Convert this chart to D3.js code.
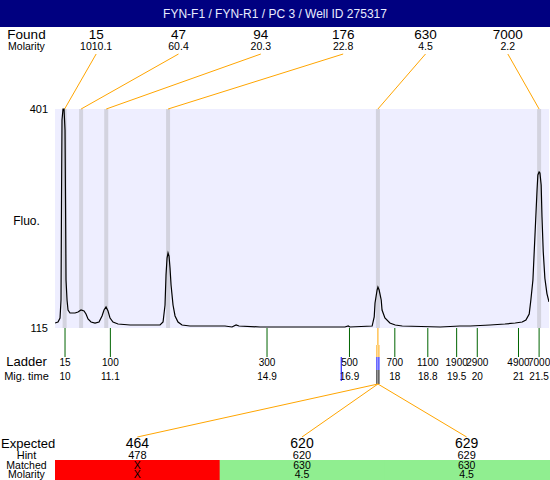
<!doctype html>
<html lang="en">
  <head>
    <meta charset="utf-8">
    <title>FYN-F1 / FYN-R1 / PC 3 / Well ID 275317</title>
    <style>
      body{margin:0; background:#fff;}
      text{font-family:"Liberation Sans", Arial, sans-serif;}
    </style>
  </head>
  <body>
    <script src="https://cdn.jsdelivr.net/npm/d3@7"></script>
    <script>

      var title = "FYN-F1 / FYN-R1 / PC 3 / Well ID 275317";

      // found peaks
      var foundSizes    = [15, 47, 94, 176, 630, 7000];
      var foundMolarity = ["1010.1", "60.4", "20.3", "22.8", "4.5", "2.2"];
      var foundTimes    = [9.99, 10.39, 11.0, 12.5, 17.59, 21.5];

      // ladder
      var ladderSizes = [15, 100, 300, 500, 700, 1100, 1900, 2900, 4900, 7000];
      var ladderTimes = [10, 11.1, 14.9, 16.9, 18, 18.8, 19.5, 20, 21, 21.5];

      // expected fragments
      var expected        = [464, 620, 629];
      var hints           = [478, 620, 629];
      var matched         = ["X", "630", "630"];
      var matchedMolarity = ["X", "4.5", "4.5"];
      var matchedTime     = 17.59;
      var markerTime      = 16.7;

      // y axis ticks
      var fluoTicks = [115, 401];

      // electropherogram trace (mig. time, fluorescence)
      var traceTime = [9.757, 9.83, 9.879, 9.903, 9.915, 9.927, 9.951, 9.976, 10.0, 10.012, 10.024, 10.049, 10.073,
        10.121, 10.243, 10.315, 10.388, 10.461, 10.509, 10.558, 10.631, 10.728, 10.825, 10.898, 10.946, 10.995,
        11.043, 11.092, 11.164, 11.286, 11.577, 12.062, 12.305, 12.378, 12.426, 12.45, 12.475, 12.499, 12.523,
        12.547, 12.572, 12.62, 12.669, 12.741, 12.838, 13.03, 13.88, 14.05, 14.15, 14.22, 14.73, 15.7, 16.79,
        16.87, 16.91, 17.45, 17.5, 17.52, 17.57, 17.59, 17.62, 17.67, 17.69, 17.76, 17.88, 18.01, 18.18, 19.1,
        19.58, 19.83, 20.31, 20.67, 20.92, 21.09, 21.18, 21.26, 21.3, 21.35, 21.4, 21.45, 21.47, 21.5, 21.52,
        21.55, 21.57, 21.6, 21.64, 21.69, 21.74];
      var traceFluo = [121.5, 122.8, 128, 151.6, 282, 386.6, 401, 401, 373.6, 282, 177.7, 151.6, 138.5,
        134.6, 134.6, 135.9, 138.5, 137.2, 133.3, 126.8, 122.8, 121.5, 122.8, 130.7, 138.5, 142.4,
        137.2, 128, 122.8, 120.2, 118.9, 118.9, 118.9, 122.8, 145, 184.2, 206.4, 213, 209,
        193.4, 171.2, 145, 130.7, 122.8, 118.9, 117.6, 117.6, 116.3, 118.9, 117.6, 116.3, 116.3, 116.3,
        117.6, 116.3, 117.6, 129.4, 147.7, 164.6, 168.5, 164.6, 151.6, 138.5, 128, 121.5, 118.9, 117.6, 116.3,
        117.6, 117.6, 118.9, 120.2, 121.5, 122.8, 125.4, 133.3, 151.6, 177.7, 236.5, 295.2, 314.8, 318.7, 317.4,
        301.7, 260, 215, 180, 160, 149];

      var width = 550, height = 480;
      var plot = {left: 55, right: 549, top: 109, bottom: 328};
      var labelX = 26.5;

      var svg = d3.select("body")
        .append("svg")
        .attr("width", width)
        .attr("height", height);

      var x = d3.scaleLinear()
        .domain([9.757, 21.74])
        .range([plot.left, plot.right]);

      var y = d3.scaleLinear()
        .domain([115, 401])
        .range([plot.bottom, plot.top]);

      // columns for the found / expected labels
      var foundCol = d3.scaleBand()
        .domain(d3.range(foundSizes.length))
        .range([plot.left, plot.right]);
      var expCol = d3.scaleBand()
        .domain(d3.range(expected.length))
        .range([plot.left, plot.right]);

      // title bar
      svg.append("rect")
        .attr("width", width).attr("height", 27)
        .attr("fill", "#000080");
      svg.append("text")
        .attr("x", width / 2).attr("y", 18)
        .attr("text-anchor", "middle")
        .attr("font-size", 12)
        .attr("fill", "#e8ecff")
        .text(title);

      // found row
      svg.append("text").attr("x", labelX).attr("y", 39).attr("text-anchor", "middle")
        .attr("font-size", 13.5).text("Found");
      svg.append("text").attr("x", labelX).attr("y", 50).attr("text-anchor", "middle")
        .attr("font-size", 10.5).text("Molarity");

      svg.selectAll(".found")
        .data(foundSizes)
        .enter().append("text")
        .attr("x", function(d, i){ return foundCol(i) + foundCol.bandwidth() / 2; })
        .attr("y", 39)
        .attr("text-anchor", "middle")
        .attr("font-size", 13.5)
        .text(function(d){ return d; });

      svg.selectAll(".fmol")
        .data(foundMolarity)
        .enter().append("text")
        .attr("x", function(d, i){ return foundCol(i) + foundCol.bandwidth() / 2; })
        .attr("y", 50)
        .attr("text-anchor", "middle")
        .attr("font-size", 10.5)
        .text(function(d){ return d; });

      // plot background + peak bands
      svg.append("rect")
        .attr("x", plot.left).attr("y", plot.top)
        .attr("width", plot.right - plot.left).attr("height", plot.bottom - plot.top)
        .attr("fill", "#eeeeff");

      svg.selectAll(".band")
        .data(foundTimes)
        .enter().append("rect")
        .attr("x", function(d){ return x(d) - 2; })
        .attr("y", plot.top)
        .attr("width", 4)
        .attr("height", plot.bottom - plot.top)
        .attr("fill", "#d3d3df");

      // orange connectors, labels -> peaks
      svg.selectAll(".flink")
        .data(foundTimes)
        .enter().append("line")
        .attr("x1", function(d, i){ return foundCol(i) + foundCol.bandwidth() / 2; })
        .attr("y1", 54)
        .attr("x2", function(d){ return x(d); })
        .attr("y2", plot.top)
        .attr("stroke", "orange");

      // trace
      svg.append("clipPath").attr("id", "clip")
        .append("rect")
        .attr("x", plot.left).attr("y", plot.top - 1)
        .attr("width", plot.right - plot.left).attr("height", plot.bottom - plot.top + 1);

      var line = d3.line()
        .x(function(d, i){ return x(traceTime[i]); })
        .y(function(d){ return y(d); });

      svg.append("path")
        .datum(traceFluo)
        .attr("clip-path", "url(#clip)")
        .attr("d", line)
        .attr("fill", "none")
        .attr("stroke", "black")
        .attr("stroke-width", 1.2);

      // y labels
      svg.selectAll(".ytick")
        .data(fluoTicks)
        .enter().append("text")
        .attr("x", 48)
        .attr("y", function(d){ return y(d) + 4; })
        .attr("text-anchor", "end")
        .attr("font-size", 11)
        .text(function(d){ return d; });
      svg.append("text").attr("x", labelX).attr("y", 225).attr("text-anchor", "middle")
        .attr("font-size", 12).text("Fluo.");

      // ladder
      svg.selectAll(".ltick")
        .data(ladderTimes)
        .enter().append("line")
        .attr("x1", function(d){ return x(d); })
        .attr("x2", function(d){ return x(d); })
        .attr("y1", plot.bottom)
        .attr("y2", 357)
        .attr("stroke", "#006400");

      svg.append("text").attr("x", labelX).attr("y", 366).attr("text-anchor", "middle")
        .attr("font-size", 13).text("Ladder");
      svg.append("text").attr("x", labelX).attr("y", 380).attr("text-anchor", "middle")
        .attr("font-size", 11).text("Mig. time");

      svg.selectAll(".lsize")
        .data(ladderSizes)
        .enter().append("text")
        .attr("x", function(d, i){ return x(ladderTimes[i]); })
        .attr("y", 366)
        .attr("text-anchor", "middle")
        .attr("font-size", 10)
        .text(function(d){ return d; });

      svg.selectAll(".ltime")
        .data(ladderTimes)
        .enter().append("text")
        .attr("x", function(d){ return x(d); })
        .attr("y", 380)
        .attr("text-anchor", "middle")
        .attr("font-size", 10)
        .text(function(d){ return d; });

      // marker and matched peak lines
      var mx = x(matchedTime);
      svg.append("line")
        .attr("x1", x(markerTime)).attr("x2", x(markerTime))
        .attr("y1", 357).attr("y2", 381)
        .attr("stroke", "blue");
      svg.append("line")
        .attr("x1", mx).attr("x2", mx).attr("y1", plot.bottom).attr("y2", 345)
        .attr("stroke", "orange");
      [-1, 1].forEach(function(o){
        svg.append("line")
          .attr("x1", mx + o).attr("x2", mx + o).attr("y1", 345).attr("y2", 357)
          .attr("stroke", "orange");
        svg.append("line")
          .attr("x1", mx + o).attr("x2", mx + o).attr("y1", 357).attr("y2", 370)
          .attr("stroke", "blue");
        svg.append("line")
          .attr("x1", mx + o).attr("x2", mx + o).attr("y1", 370).attr("y2", 384)
          .attr("stroke", "black");
      });

      // expected rows
      svg.selectAll(".elink")
        .data(expected)
        .enter().append("line")
        .attr("x1", function(d, i){ return expCol(i) + expCol.bandwidth() / 2; })
        .attr("y1", 437)
        .attr("x2", mx)
        .attr("y2", 384)
        .attr("stroke", "orange");

      svg.selectAll(".mbar")
        .data(matched)
        .enter().append("rect")
        .attr("x", function(d, i){ return expCol(i); })
        .attr("y", 460)
        .attr("width", expCol.bandwidth() + 1)
        .attr("height", 20)
        .attr("fill", function(d){ return d === "X" ? "red" : "lightgreen"; });

      svg.append("text").attr("x", 1).attr("y", 448)
        .attr("font-size", 13).text("Expected");
      svg.append("text").attr("x", labelX).attr("y", 459).attr("text-anchor", "middle")
        .attr("font-size", 11).text("Hint");
      svg.append("text").attr("x", labelX).attr("y", 469).attr("text-anchor", "middle")
        .attr("font-size", 10.5).text("Matched");
      svg.append("text").attr("x", labelX).attr("y", 478).attr("text-anchor", "middle")
        .attr("font-size", 10.5).text("Molarity");

      var rows = [
        {vals: expected, y: 448, size: 14},
        {vals: hints, y: 459, size: 11},
        {vals: matched, y: 469, size: 10.5},
        {vals: matchedMolarity, y: 478, size: 10.5}
      ];
      rows.forEach(function(r){
        svg.selectAll(null)
          .data(r.vals)
          .enter().append("text")
          .attr("x", function(d, i){ return expCol(i) + expCol.bandwidth() / 2; })
          .attr("y", r.y)
          .attr("text-anchor", "middle")
          .attr("font-size", r.size)
          .text(function(d){ return d; });
      });

    </script>
  </body>
</html>
